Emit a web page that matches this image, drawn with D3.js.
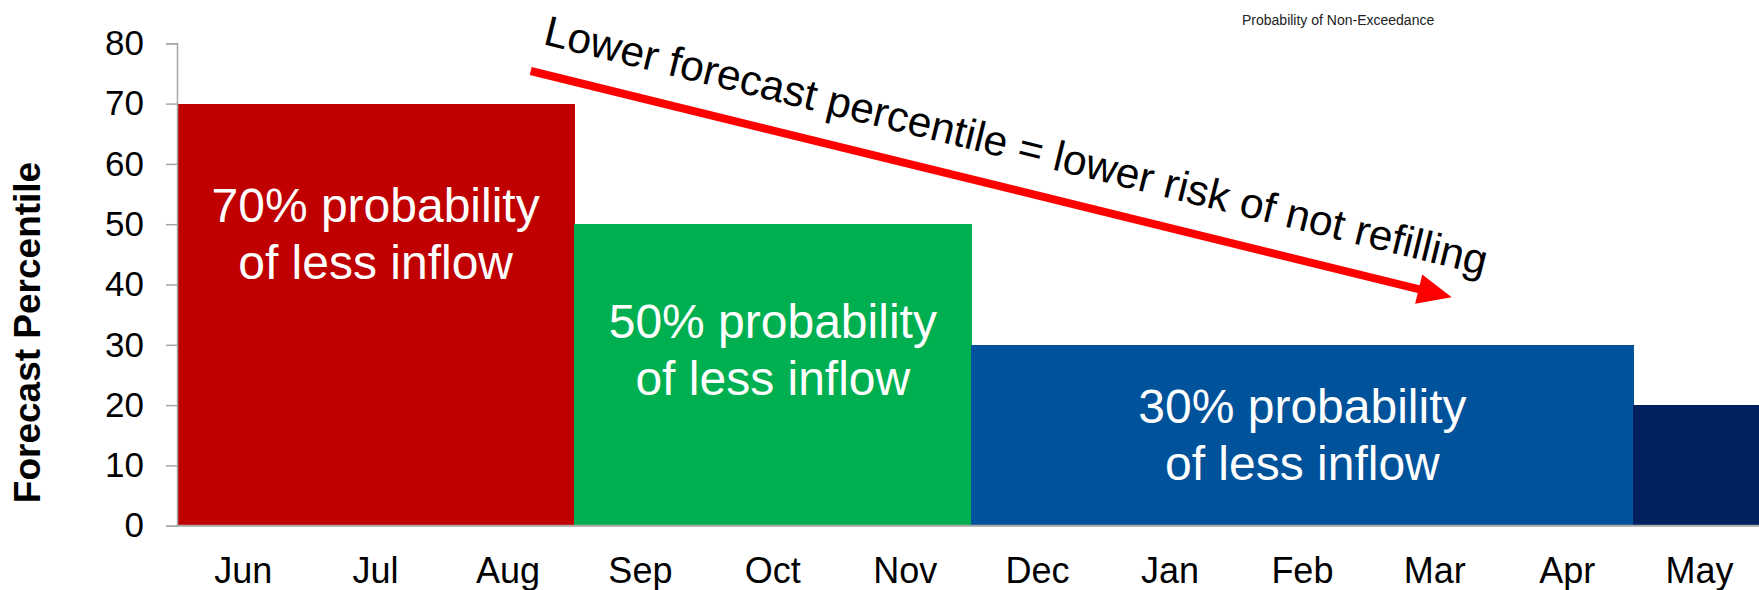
<!DOCTYPE html>
<html>
<head>
<meta charset="utf-8">
<script src="https://cdn.jsdelivr.net/npm/d3@7"></script>
<style>
  html, body { margin: 0; padding: 0; background: #fff; }
  svg { display: block; font-family: "Liberation Sans", Arial, sans-serif; }
</style>
</head>
<body>
<svg id="chart" width="1759" height="590"></svg>
<script>
// ---- data ----
const months = ["Jun","Jul","Aug","Sep","Oct","Nov","Dec","Jan","Feb","Mar","Apr","May"];
const percentiles = [70,70,70,50,50,50,30,30,30,30,30,20];
const barColors = ["#C00000","#C00000","#C00000","#00B050","#00B050","#00B050",
                   "#00529B","#00529B","#00529B","#00529B","#00529B","#002060"];
const yTicks = [0,10,20,30,40,50,60,70,80];
const labelSpans = [["Jun","Aug"],["Sep","Nov"],["Dec","Apr"]];
const labelLines = [["70% probability","of less inflow"],
                    ["50% probability","of less inflow"],
                    ["30% probability","of less inflow"]];
const yTitle = "Forecast Percentile";
const topNote = "Probability of Non-Exceedance";
const arrowText = "Lower forecast percentile = lower risk of not refilling";

// ---- layout ----
const W = 1759, H = 590;
const x0 = 177, monthW = 132.4;
const yTop = 43.3, yBottom = 525.7;
const labelBaselines = [221.7, 338.3, 423];
const labelLineGap = 57;
const gray = "#A6A6A6";

const svg = d3.select("#chart");

const x = d3.scaleBand().domain(months).range([x0, x0 + monthW * months.length]).paddingInner(0).paddingOuter(0);
const y = d3.scaleLinear().domain([0, 80]).range([yBottom, yTop]);

// bars
svg.append("g").selectAll("rect").data(months).join("rect")
  .attr("x", d => x(d))
  .attr("width", x.bandwidth() + 0.6)
  .attr("y", (d, i) => y(percentiles[i]))
  .attr("height", (d, i) => y(0) - y(percentiles[i]))
  .attr("fill", (d, i) => barColors[i])
  .attr("shape-rendering", "crispEdges");

// y axis
const yAxis = d3.axisLeft(y).tickValues(yTicks).tickSize(11).tickPadding(22);
const gy = svg.append("g").attr("transform", `translate(${x0},0)`).call(yAxis);
gy.select(".domain").attr("stroke", gray).attr("stroke-width", 1.5);
gy.selectAll(".tick line").attr("stroke", gray).attr("stroke-width", 1.5);
gy.selectAll(".tick text").attr("font-size", 35).attr("fill", "#000")
  .attr("font-family", "'Liberation Sans', Arial, sans-serif");

// x axis
const xAxis = d3.axisBottom(x).tickSize(0).tickPadding(32);
const gx = svg.append("g").attr("transform", `translate(0,${yBottom})`).call(xAxis);
gx.select(".domain").remove();
gx.append("line").attr("x1", x0).attr("x2", W).attr("y1", 0).attr("y2", 0)
  .attr("stroke", gray).attr("stroke-width", 2);
gx.selectAll(".tick text").attr("font-size", 36).attr("fill", "#000")
  .attr("font-family", "'Liberation Sans', Arial, sans-serif");

// y title
svg.append("text")
  .attr("transform", `translate(40,${(yTop + yBottom) / 2 + 48}) rotate(-90)`)
  .attr("text-anchor", "middle")
  .attr("font-size", 37).attr("font-weight", "bold").attr("fill", "#000")
  .text(yTitle);

// bar labels
labelSpans.forEach((span, k) => {
  const cx = (x(span[0]) + x(span[1]) + x.bandwidth()) / 2;
  const t = svg.append("text").attr("text-anchor", "middle")
    .attr("font-size", 48).attr("fill", "#fff");
  labelLines[k].forEach((line, j) => {
    t.append("tspan").attr("x", cx).attr("y", labelBaselines[k] + j * labelLineGap).text(line);
  });
});

// arrow
const ax1 = 530.7, ay1 = 71, ax2 = 1451.7, ay2 = 297.3;
const ang = Math.atan2(ay2 - ay1, ax2 - ax1);
const headL = 34, headW = 30;
const bx = ax2 - headL * Math.cos(ang), by = ay2 - headL * Math.sin(ang);
svg.append("line").attr("x1", ax1).attr("y1", ay1).attr("x2", bx + 2 * Math.cos(ang)).attr("y2", by + 2 * Math.sin(ang))
  .attr("stroke", "#FF0000").attr("stroke-width", 8);
const px = -Math.sin(ang), py = Math.cos(ang);
svg.append("path")
  .attr("d", `M${ax2},${ay2} L${bx + px * headW / 2},${by + py * headW / 2} L${bx - px * headW / 2},${by - py * headW / 2} Z`)
  .attr("fill", "#FF0000");

// arrow text
svg.append("text")
  .attr("transform", `translate(542,44) rotate(${ang * 180 / Math.PI})`)
  .attr("font-size", 42.6).attr("fill", "#000")
  .text(arrowText);

// top note
svg.append("text").attr("x", 1242).attr("y", 25)
  .attr("font-size", 14).attr("fill", "#222")
  .text(topNote);
</script>
</body>
</html>
